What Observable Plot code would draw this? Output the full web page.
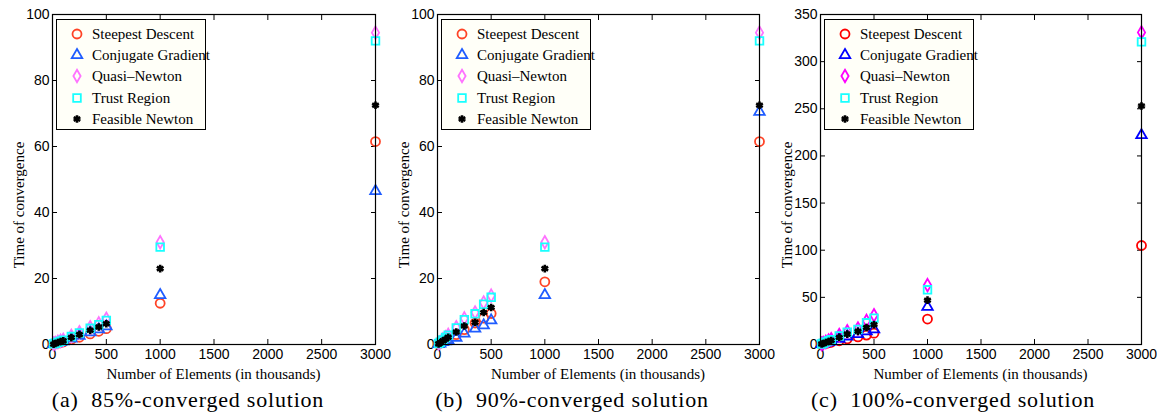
<!DOCTYPE html>
<html>
<head>
<meta charset="utf-8">
<script src="https://cdn.jsdelivr.net/npm/d3@7"></script>
<script src="https://cdn.jsdelivr.net/npm/@observablehq/plot@0.6"></script>
<style>
  html, body { margin: 0; padding: 0; background: white; }
  #root { position: relative; width: 1157px; height: 416px; overflow: hidden; }
  .panel { position: absolute; top: 0; height: 416px; }
  .legend { position: absolute; border: 1px solid black; background: #fffff8; box-sizing: border-box; }
  .row { position: absolute; left: 0; height: 20px; font-family: "Liberation Serif", serif; font-size: 15px; line-height: 20px; white-space: nowrap; }
  .row svg { position: absolute; left: 10px; top: 0; }
  .row span { position: absolute; left: 35px; top: 0; }
  .ylab { position: absolute; font-family: "Liberation Serif", serif; font-size: 15px; white-space: nowrap; transform: translate(-50%, -50%) rotate(-90deg); }
  .xlab { position: absolute; font-family: "Liberation Serif", serif; font-size: 15px; white-space: nowrap; transform: translateX(-50%); }
  .cap { position: absolute; font-family: "Liberation Serif", serif; font-size: 22px; letter-spacing: 0.8px; white-space: pre; transform: translateX(-50%); }
</style>
</head>
<body>
<div id="root"></div>
<script>
// ---- data ----
const series = ["Steepest Descent", "Conjugate Gradient", "Quasi\u2013Newton", "Trust Region", "Feasible Newton"];
const elements = [10, 25, 50, 75, 100, 175, 250, 350, 430, 500, 1000, 3000];

// (a) 85%-converged
const a_sd = [0.1, 0.2, 0.4, 0.6, 0.8, 1.5, 2.2, 3.2, 4.0, 4.8, 12.5, 61.5];
const a_cg = [0.1, 0.3, 0.5, 0.7, 1.0, 1.8, 2.6, 3.7, 4.6, 5.5, 15, 46.5];
const a_qn = [0.2, 0.4, 0.8, 1.1, 1.4, 2.6, 3.7, 5.2, 6.4, 7.8, 31, 94.5];
const a_tr = [0.2, 0.4, 0.7, 1.0, 1.3, 2.4, 3.5, 4.9, 6.0, 7.3, 29.5, 92];
const a_fn = [0.1, 0.3, 0.6, 0.9, 1.1, 2.1, 3.0, 4.3, 5.3, 6.3, 23, 72.5];

// (b) 90%-converged
const b_sd = [0.2, 0.5, 0.9, 1.3, 1.7, 3.0, 4.5, 6.5, 8.0, 9.4, 19, 61.5];
const b_cg = [0.1, 0.3, 0.7, 1.0, 1.3, 2.0, 3.3, 4.8, 5.8, 7.3, 15, 70.5];
const b_qn = [0.3, 0.7, 1.5, 2.2, 2.9, 5.2, 7.9, 9.7, 12.7, 14.8, 31, 94.5];
const b_tr = [0.3, 0.7, 1.4, 2.1, 2.8, 5.0, 7.5, 9.3, 12.2, 14.3, 29.5, 92];
const b_fn = [0.2, 0.5, 1.1, 1.6, 2.2, 3.8, 5.6, 6.7, 9.7, 11.2, 23, 72.5];

// (c) 100%-converged
const c_sd = [0.3, 0.6, 1.2, 1.8, 2.4, 4, 6, 8, 10, 12, 27, 105];
const c_cg = [0.4, 0.9, 1.7, 2.5, 3.3, 6, 8.5, 11, 14, 16, 40, 222];
const c_qn = [0.6, 1.4, 2.8, 4.2, 5.6, 10, 14, 17, 25, 31, 63, 331];
const c_tr = [0.6, 1.3, 2.6, 3.9, 5.2, 9, 13, 16, 23, 28, 58, 321];
const c_fn = [0.5, 1.1, 2.1, 3.2, 4.2, 7.5, 11, 14, 18, 21, 47, 253];

const xTicks = [0, 500, 1000, 1500, 2000, 2500, 3000];
const yTicksAB = [0, 20, 40, 60, 80, 100];
const yTicksC = [0, 50, 100, 150, 200, 250, 300, 350];

const captions = ["(a)  85%-converged solution", "(b)  90%-converged solution", "(c)  100%-converged solution"];
const xLabel = "Number of Elements (in thousands)";
const yLabel = "Time of convergence";

// ---- styling ----
const symbols = ["circle", "triangle", "diamond", "square", "asterisk"];
const d3Symbols = [d3.symbolCircle, d3.symbolTriangle, d3.symbolDiamond, d3.symbolSquare, d3.symbolAsterisk];
const colorsAB = ["#ff4326", "#1f5cff", "#ff73ff", "#19ffff", "#000000"];
const colorsC = ["#ff0000", "#0000ff", "#ff00ff", "#19ffff", "#000000"];
const radii = [4.5, 3.9, 3.8, 4.3, 3.6];
const widths = [1.8, 1.8, 1.8, 1.8, 2.6];

const panels = [
  {vals: [a_sd, a_cg, a_qn, a_tr, a_fn], ymax: 100, yTicks: yTicksAB, colors: colorsAB, left: 0, width: 386, ml: 52, mr: 11, capX: 188},
  {vals: [b_sd, b_cg, b_qn, b_tr, b_fn], ymax: 100, yTicks: yTicksAB, colors: colorsAB, left: 386, width: 386, ml: 51, mr: 13, capX: 186},
  {vals: [c_sd, c_cg, c_qn, c_tr, c_fn], ymax: 350, yTicks: yTicksC, colors: colorsC, left: 772, width: 385, ml: 48, mr: 16, capX: 181}
];

const root = document.getElementById("root");
const H = 385, MT = 14, MB = 41;
const fmt = d => String(d);

panels.forEach((p, pi) => {
  const div = document.createElement("div");
  div.className = "panel";
  div.style.left = p.left + "px";
  div.style.width = p.width + "px";
  root.appendChild(div);

  const rows = [];
  p.vals.forEach((arr, si) => elements.forEach((x, i) => rows.push({x, y: arr[i], s: si})));

  const marks = [];
  for (let si = 0; si < series.length; si++) {
    marks.push(Plot.dot(rows.filter(d => d.s === si), {
      x: "x", y: "y", symbol: () => symbols[si], r: radii[si],
      stroke: p.colors[si], strokeWidth: widths[si], fill: "none"
    }));
  }

  const chart = Plot.plot({
    width: p.width, height: H,
    marginTop: MT, marginBottom: MB, marginLeft: p.ml, marginRight: p.mr,
    style: {fontFamily: "Liberation Sans, Arial, sans-serif", fontSize: "14px", color: "black", background: "transparent", overflow: "visible"},
    x: {domain: [0, 3000]},
    y: {domain: [0, p.ymax]},
    symbol: {type: "identity"},
    marks: [
      Plot.axisX(xTicks, {anchor: "bottom", tickSize: -5, tickPadding: 10, tickFormat: fmt, label: null}),
      Plot.axisX(xTicks, {anchor: "top", tickSize: -5, tickFormat: () => "", label: null}),
      Plot.axisY(p.yTicks, {anchor: "left", tickSize: -5, tickPadding: 8, tickFormat: fmt, label: null}),
      Plot.axisY(p.yTicks, {anchor: "right", tickSize: -5, tickFormat: () => "", label: null}),
      ...marks,
      Plot.frame({stroke: "black", strokeWidth: 1.2})
    ]
  });
  chart.style.position = "absolute";
  chart.style.left = "0px";
  chart.style.top = "0px";
  div.appendChild(chart);

  // legend
  const lg = document.createElement("div");
  lg.className = "legend";
  lg.style.left = (p.ml + 4) + "px";
  lg.style.top = "19px";
  lg.style.width = "150px";
  lg.style.height = "111px";
  series.forEach((name, si) => {
    const r = document.createElement("div");
    r.className = "row";
    r.style.top = (4 + si * 21.2) + "px";
    const sz = Math.PI * radii[si] * radii[si];
    const path = d3.symbol(d3Symbols[si], sz)();
    r.innerHTML = `<svg width="20" height="20" viewBox="-10 -10 20 20"><path d="${path}" fill="none" stroke="${p.colors[si]}" stroke-width="${widths[si]}"/></svg><span>${name}</span>`;
    lg.appendChild(r);
  });
  div.appendChild(lg);

  // axis labels
  const yl = document.createElement("div");
  yl.className = "ylab";
  yl.textContent = yLabel;
  yl.style.left = (p.ml - 33) + "px";
  yl.style.top = "205px";
  div.appendChild(yl);

  const xl = document.createElement("div");
  xl.className = "xlab";
  xl.textContent = xLabel;
  xl.style.left = (p.ml + (p.width - p.ml - p.mr) / 2) + "px";
  xl.style.top = "366px";
  div.appendChild(xl);

  const cap = document.createElement("div");
  cap.className = "cap";
  cap.textContent = captions[pi];
  cap.style.left = p.capX + "px";
  cap.style.top = "387px";
  div.appendChild(cap);
});
</script>
</body>
</html>
